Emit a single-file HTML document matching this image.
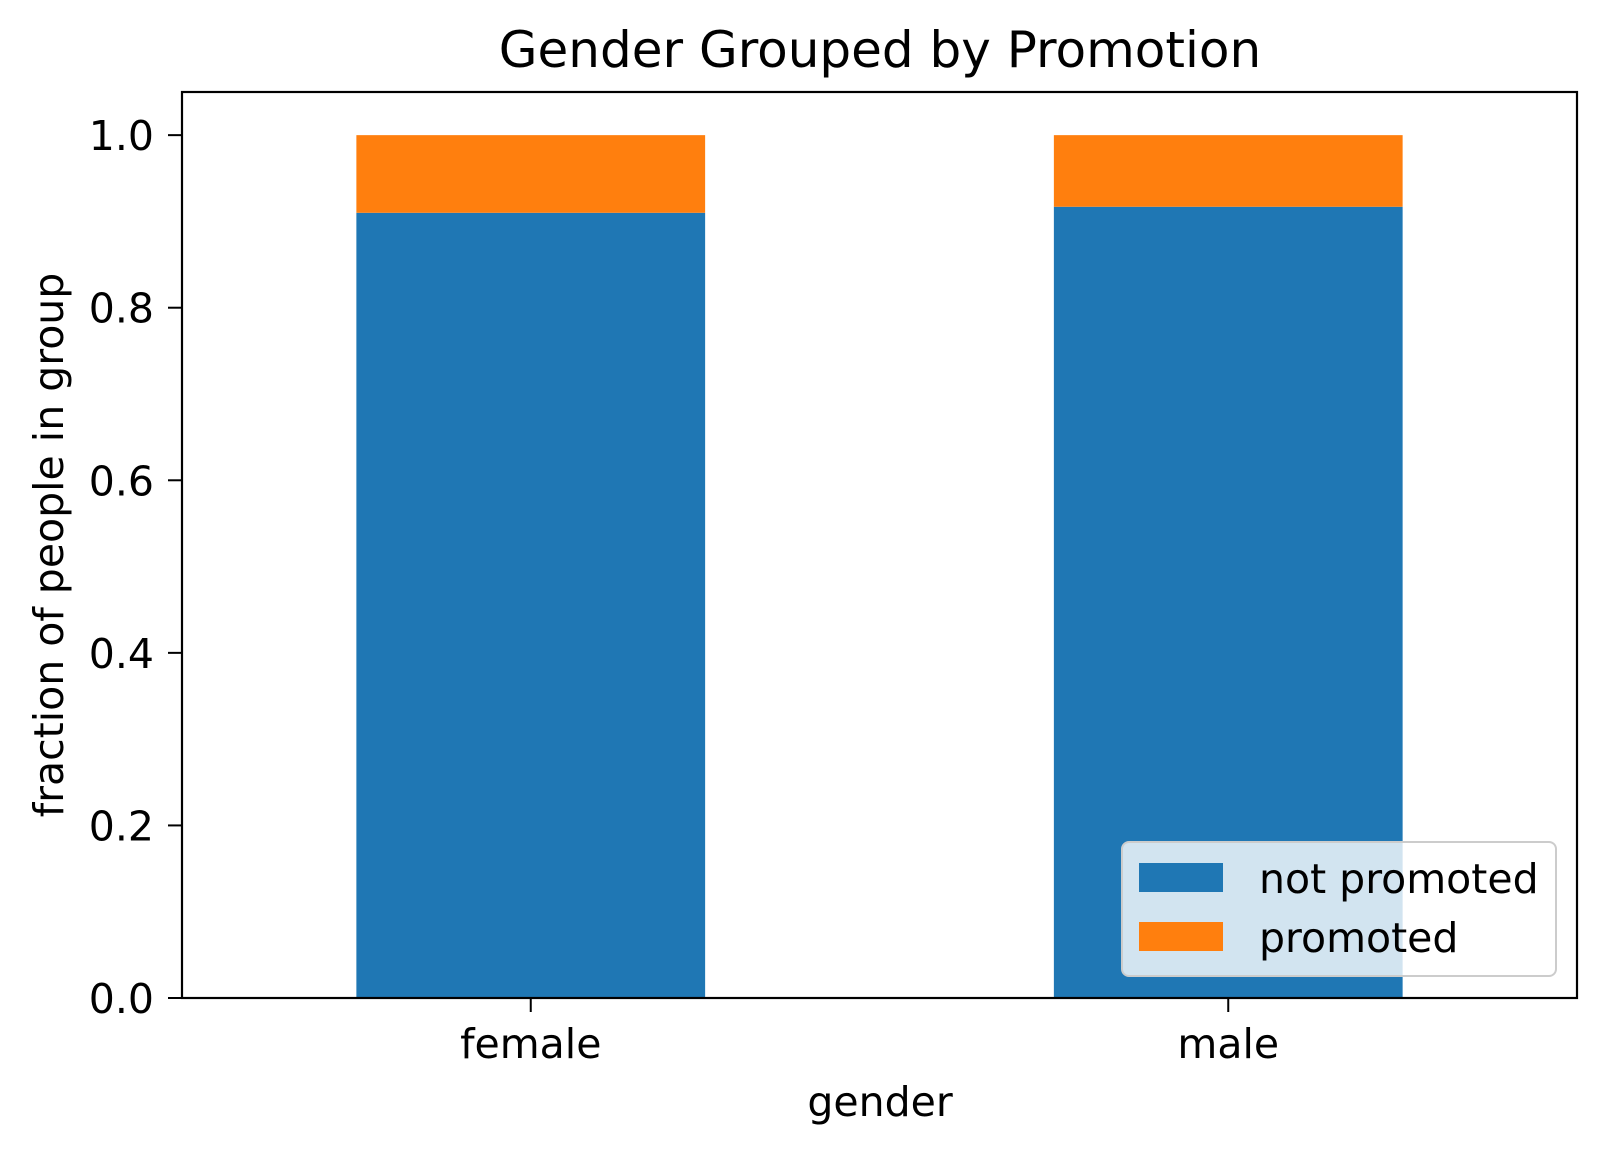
<!DOCTYPE html>
<html><head><meta charset="utf-8"><style>
html,body{margin:0;padding:0;background:#fff;}
svg text{font-family:"DejaVu Sans","Liberation Sans",sans-serif;fill:#000;}
</style></head><body>
<svg id="chart" width="1607" height="1154" viewBox="0 0 1607 1154" xmlns="http://www.w3.org/2000/svg">
<rect width="1607" height="1154" fill="#fff"/>
<text x="880" y="67" font-size="50" text-anchor="middle">Gender Grouped by Promotion</text>
<g id="plot"></g>
<text x="880" y="1116" font-size="41" text-anchor="middle">gender</text>
<text transform="translate(63,545) rotate(-90)" font-size="41" text-anchor="middle">fraction of people in group</text>
</svg>
<script>
const categories = ["female", "male"];
const notPromoted = [0.91, 0.917];
const promoted = [0.09, 0.083];
const yTicks = [0, 0.2, 0.4, 0.6, 0.8, 1.0];
const yTickLabels = ["0.0", "0.2", "0.4", "0.6", "0.8", "1.0"];
const seriesNames = ["not promoted", "promoted"];

const NS = "http://www.w3.org/2000/svg";
const L = 182, R = 1577, T = 92, B = 998;
const yMax = 1.05;
const y = v => B - v / yMax * (B - T);
const x = i => L + (i + 0.5) / categories.length * (R - L);
const bw = 0.5 / categories.length * (R - L);
const g = document.getElementById("plot");
function mk(tag, attrs) { const e = document.createElementNS(NS, tag); for (const k in attrs) e.setAttribute(k, attrs[k]); g.appendChild(e); return e; }

categories.forEach((c, i) => {
  const b1 = mk("rect", { x: x(i) - bw / 2, y: y(notPromoted[i]), width: bw, height: y(0) - y(notPromoted[i]), fill: "#1f77b4" });
  
  
  const top = notPromoted[i] + promoted[i];
  const b2 = mk("rect", { x: x(i) - bw / 2, y: y(top), width: bw, height: y(notPromoted[i]) - y(top), fill: "#ff7f0e" });
  
  
  const tk = mk("line", { x1: x(i), x2: x(i), y1: B, y2: B + 14, stroke: "#000", "stroke-width": 2 });
  
  
  const tl = mk("text", { x: x(i), y: B + 60, "font-size": 41, "text-anchor": "middle" });
  tl.textContent = c;
  
  
});

yTicks.forEach((v, i) => {
  const tk = mk("line", { x1: L - 14, x2: L, y1: y(v), y2: y(v), stroke: "#000", "stroke-width": 2 });
  
  
  const tl = mk("text", { x: L - 28, y: y(v) + 15, "font-size": 41, "text-anchor": "end" });
  tl.textContent = yTickLabels[i];
  
  
});

const frame = mk("rect", { x: L, y: T, width: R - L, height: B - T, fill: "none", stroke: "#000", "stroke-width": 2.2 });



const lg = mk("rect", { x: 1122, y: 842, width: 434, height: 134, rx: 7, fill: "rgba(255,255,255,0.8)", stroke: "#cccccc", "stroke-width": 2 });


const colors = ["#1f77b4", "#ff7f0e"];
seriesNames.forEach((n, i) => {
  const p = mk("rect", { x: 1139, y: 863 + i * 59, width: 84, height: 29, fill: colors[i] });
  
  
  const t = mk("text", { x: 1259, y: 893 + i * 59, "font-size": 41 });
  t.textContent = n;
  
  
});
</script>
</body></html>
